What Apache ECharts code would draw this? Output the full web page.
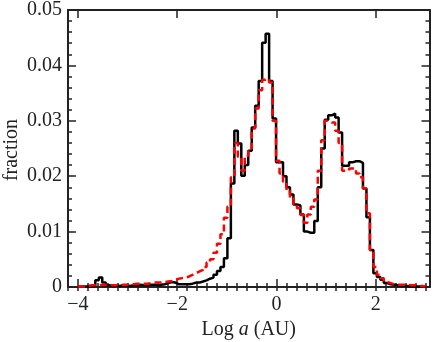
<!DOCTYPE html>
<html>
<head>
<meta charset="utf-8">
<script src="https://cdn.jsdelivr.net/npm/echarts@6/dist/echarts.min.js"></script>
<style>
  html, body { margin: 0; padding: 0; background: #fff; }
  #chart { width: 436px; height: 342px; }
</style>
</head>
<body>
<div id="chart"></div>
<script>
// histogram bins: left edge of first bin and bin width in log a
const binStart = -4.0;
const binWidth = 0.07;

// black solid histogram (fraction per bin)
const blackFrac = [
  0.0001, 0.0001, 0.0001, 0.0002, 0.0002, 0.0012, 0.0017, 0.0008, 0.0003, 0.0002,
  0.0003, 0.0002, 0.0003, 0.0003, 0.0002, 0.0003, 0.0003, 0.0004, 0.0003, 0.0003,
  0.0004, 0.0004, 0.0003, 0.0004, 0.0005, 0.0007, 0.0009, 0.0008, 0.0005, 0.0005,
  0.0005, 0.0005, 0.0006, 0.0008, 0.0008, 0.0010, 0.0012, 0.0015, 0.0017, 0.0022,
  0.0029, 0.0036, 0.0052, 0.0088, 0.0187, 0.0282, 0.0259, 0.0201, 0.0220, 0.0246,
  0.0288, 0.0327, 0.0372, 0.0441, 0.0457, 0.0372, 0.0304, 0.0225, 0.0225, 0.0200,
  0.0180, 0.0167, 0.0149, 0.0147, 0.0131, 0.0100, 0.0098, 0.0098, 0.0119, 0.0180,
  0.0250, 0.0302, 0.0310, 0.0313, 0.0306, 0.0279, 0.0219, 0.0219, 0.0225, 0.0227,
  0.0227, 0.0224, 0.0178, 0.0126, 0.0067, 0.0025, 0.0018, 0.0013, 0.0007, 0.0005,
  0.0004, 0.0003, 0.0002, 0.0002, 0.0002, 0.0001, 0.0001, 0.0001, 0.0001, 0.0001
];

// red dashed histogram (fraction per bin)
const redFrac = [
  0.0001, 0.0001, 0.0002, 0.0003, 0.0003, 0.0003, 0.0004, 0.0004, 0.0004, 0.0003,
  0.0003, 0.0003, 0.0004, 0.0004, 0.0005, 0.0005, 0.0006, 0.0006, 0.0006, 0.0006,
  0.0007, 0.0008, 0.0008, 0.0008, 0.0009, 0.0010, 0.0011, 0.0013, 0.0015, 0.0016,
  0.0017, 0.0019, 0.0022, 0.0025, 0.0028, 0.0031, 0.0036, 0.0044, 0.0050, 0.0062,
  0.0078, 0.0095, 0.0125, 0.0145, 0.0198, 0.0260, 0.0235, 0.0210, 0.0237, 0.0250,
  0.0286, 0.0322, 0.0355, 0.0374, 0.0376, 0.0369, 0.0300, 0.0228, 0.0205, 0.0190,
  0.0174, 0.0160, 0.0149, 0.0142, 0.0130, 0.0116, 0.0131, 0.0145, 0.0158, 0.0210,
  0.0265, 0.0300, 0.0297, 0.0297, 0.0282, 0.0260, 0.0210, 0.0210, 0.0214, 0.0214,
  0.0205, 0.0198, 0.0178, 0.0133, 0.0067, 0.0036, 0.0022, 0.0016, 0.0009, 0.0007,
  0.0005, 0.0004, 0.0004, 0.0004, 0.0004, 0.0003, 0.0003, 0.0002, 0.0002, 0.0001
];

// tick positions
const xMajorTicks = [-4, -2, 0, 2];
const xMinorTicks = [];
for (let k = -21; k <= 15; k++) xMinorTicks.push(+(k * 0.2).toFixed(1));

const font = 'Liberation Serif';
const ink = '#222';

// turn bin values into step points at the bin edges
function toSteps(vals) {
  const pts = vals.map((v, i) => [+(binStart + i * binWidth).toFixed(3), v]);
  pts.push([+(binStart + vals.length * binWidth).toFixed(3), vals[vals.length - 1]]);
  return pts;
}

const fmtX = v => (v < 0 ? '\u2212' + Math.abs(v) : String(v));

const xBase = {
  type: 'value', min: -4.2, max: 3.08,
  splitLine: { show: false },
  axisLine: { show: true, onZero: false, lineStyle: { color: ink, width: 2 } }
};
const yBase = {
  type: 'value', min: 0, max: 0.05, interval: 0.01,
  splitLine: { show: false },
  axisLine: { show: true, onZero: false, lineStyle: { color: ink, width: 2 } },
  axisTick: { inside: true, length: 8, lineStyle: { color: ink, width: 1.5 } },
  minorTick: { show: true, splitNumber: 5, length: 4, lineStyle: { color: ink, width: 1.5 } },
  minorSplitLine: { show: false }
};
const majorTickX = { inside: true, length: 8, customValues: xMajorTicks, lineStyle: { color: ink, width: 1.5 } };
const minorTickX = { inside: true, length: 4, customValues: xMinorTicks, lineStyle: { color: ink, width: 1.5 } };

const chart = echarts.init(document.getElementById('chart'));
chart.setOption({
  animation: false,
  backgroundColor: '#fff',
  grid: { left: 68, right: 6.5, top: 10, bottom: 55, outerBoundsMode: 'none', containLabel: false },
  // y-axis title placed by hand so it is not pushed off the canvas
  graphic: [{
    type: 'text', x: 12, y: 150, rotation: Math.PI / 2,
    style: { text: 'fraction', font: '20px "Liberation Serif"', fill: ink, align: 'center', verticalAlign: 'middle' }
  }],
  xAxis: [
    {
      ...xBase, position: 'bottom',
      axisTick: majorTickX,
      axisLabel: { customValues: xMajorTicks, formatter: fmtX, fontFamily: font, fontSize: 20, color: ink, margin: 8 },
      name: 'Log {i|a} (AU)', nameLocation: 'middle', nameGap: 28,
      nameTextStyle: {
        fontFamily: font, fontSize: 20, color: ink,
        rich: { i: { fontFamily: font, fontSize: 20, fontStyle: 'italic', color: ink } }
      }
    },
    { ...xBase, position: 'top', axisTick: majorTickX, axisLabel: { show: false } },
    { ...xBase, position: 'bottom', axisLine: { show: false }, axisTick: minorTickX, axisLabel: { show: false } },
    { ...xBase, position: 'top', axisLine: { show: false }, axisTick: minorTickX, axisLabel: { show: false } }
  ],
  yAxis: [
    {
      ...yBase, position: 'left',
      axisLabel: { fontFamily: font, fontSize: 20, color: ink, margin: 6 }
    },
    { ...yBase, position: 'right', axisLabel: { show: false } }
  ],
  series: [
    {
      type: 'line', step: 'end', xAxisIndex: 0, yAxisIndex: 0,
      showSymbol: false, symbol: 'none',
      lineStyle: { color: '#000', width: 2.5 },
      data: toSteps(blackFrac)
    },
    {
      type: 'line', step: 'end', xAxisIndex: 0, yAxisIndex: 0,
      showSymbol: false, symbol: 'none',
      lineStyle: { color: '#ff0000', width: 2.5, type: [7, 4] },
      data: toSteps(redFrac)
    }
  ]
});
</script>
</body>
</html>
